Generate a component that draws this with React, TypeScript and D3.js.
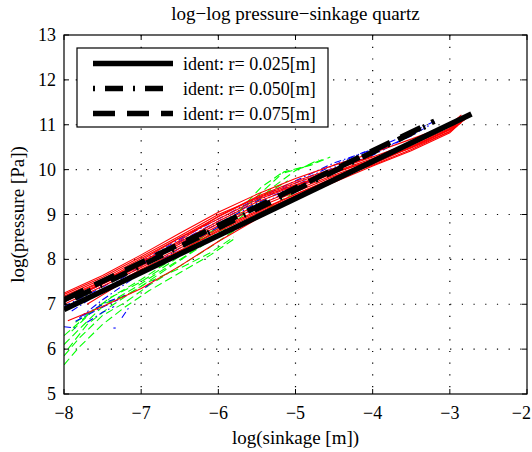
import React from "react";
import * as d3 from "d3";

const W = 532;
const H = 452;
const X_TICKS = [-8, -7, -6, -5, -4, -3, -2];
const Y_TICKS = [5, 6, 7, 8, 9, 10, 11, 12, 13];
const TITLE = "log\u2212log pressure\u2212sinkage quartz";
const X_LABEL = "log(sinkage [m])";
const Y_LABEL = "log(pressure [Pa])";
const LEGEND = ["ident: r= 0.025[m]", "ident: r= 0.050[m]", "ident: r= 0.075[m]"];

type P = [number, number];

// r = 0.025 experiments (red, solid)
const RED: P[][] = [
  [[-8, 7.25], [-7.5, 7.64], [-7, 8.1], [-6.5, 8.58], [-6, 9.05], [-5.5, 9.45], [-5, 9.8], [-4.5, 10.1], [-4, 10.37], [-3.5, 10.68], [-3, 11.0], [-2.85, 11.22]],
  [[-8, 7.18], [-7.5, 7.56], [-7, 8.02], [-6.5, 8.48], [-6, 8.95], [-5.5, 9.38], [-5, 9.7], [-4.5, 10.0], [-4, 10.28], [-3.5, 10.6], [-3, 10.95], [-2.8, 11.2]],
  [[-8, 7.12], [-7.5, 7.5], [-7, 7.95], [-6.5, 8.38], [-6, 8.85], [-5.5, 9.28], [-5, 9.6], [-4.5, 9.92], [-4, 10.22], [-3.5, 10.55], [-3, 10.92], [-2.85, 11.15]],
  [[-8, 7.05], [-7.5, 7.45], [-7, 7.88], [-6.5, 8.3], [-6, 8.75], [-5.5, 9.15], [-5, 9.5], [-4.5, 9.85], [-4, 10.15], [-3.5, 10.5], [-3, 10.88], [-2.9, 11.0]],
  [[-8, 7.0], [-7.5, 7.4], [-7, 7.82], [-6.5, 8.25], [-6, 8.68], [-5.5, 9.08], [-5, 9.45], [-4.5, 9.8], [-4, 10.1], [-3.5, 10.45], [-3, 10.85], [-2.75, 11.2]],
  [[-7.95, 7.1], [-7.5, 7.48], [-7, 7.92], [-6.5, 8.42], [-6, 8.96], [-5.5, 9.4], [-5, 9.74], [-4.5, 10.03], [-4, 10.3]],
  [[-7.95, 6.63], [-7.5, 6.95], [-7, 7.35], [-6.5, 7.85], [-6, 8.4], [-5.5, 8.9], [-5, 9.35], [-4.5, 9.72], [-4, 10.08], [-3.5, 10.42], [-3, 10.82], [-2.9, 10.98]],
  [[-8, 7.22], [-7.5, 7.6], [-7, 8.06], [-6.5, 8.52], [-6, 9.0], [-5.5, 9.36], [-5, 9.66], [-4.5, 9.94], [-4, 10.2], [-3.5, 10.52], [-3, 10.9], [-2.8, 11.18]],
  [[-8, 7.08], [-7.5, 7.45], [-7, 7.85], [-6.5, 8.35], [-6, 8.8], [-5.5, 9.2], [-5, 9.55], [-4.5, 9.88], [-4, 10.18], [-3.5, 10.48], [-3, 10.85], [-2.85, 11.05]],
  [[-7.9, 6.95], [-7.5, 7.3], [-7, 7.78], [-6.5, 8.2], [-6, 8.62], [-5.5, 9.02], [-5, 9.42], [-4.5, 9.78], [-4, 10.12], [-3.5, 10.5], [-3, 10.9], [-2.8, 11.2]],
  [[-8, 7.15], [-7.5, 7.52], [-7, 7.98], [-6.5, 8.48], [-6, 8.9], [-5.5, 9.33], [-5, 9.64], [-4.5, 9.95], [-4, 10.25], [-3.5, 10.58]],
  [[-7.7, 7.0], [-7.3, 7.42], [-7, 7.72], [-6.5, 8.18], [-6, 8.65], [-5.5, 9.05], [-5, 9.45], [-4.5, 9.82], [-4, 10.16], [-3.5, 10.5], [-3, 10.9], [-2.8, 11.12]],
];

// r = 0.050 experiments (blue, dash-dot)
const BLUE: P[][] = [
  [[-8, 7.05], [-7.5, 7.45], [-7, 7.95], [-6.5, 8.45], [-6, 8.9], [-5.5, 9.35], [-5, 9.75], [-4.5, 10.15], [-4, 10.45], [-3.5, 10.82], [-3.2, 11.08]],
  [[-7.9, 6.85], [-7.5, 7.3], [-7, 7.85], [-6.5, 8.35], [-6, 8.8], [-5.5, 9.25], [-5, 9.65], [-4.5, 10.05], [-4, 10.38], [-3.5, 10.75], [-3.25, 11.0]],
  [[-7.8, 6.7], [-7.5, 7.1], [-7, 7.7], [-6.5, 8.25], [-6, 8.72], [-5.5, 9.18], [-5, 9.6], [-4.5, 10.0], [-4, 10.32], [-3.6, 10.68]],
  [[-8, 6.95], [-7.5, 7.38], [-7, 7.9], [-6.5, 8.4], [-6, 8.85], [-5.5, 9.3], [-5, 9.7], [-4.5, 10.1], [-4.1, 10.4]],
  [[-7.85, 6.62], [-7.6, 6.85], [-7.3, 7.1]],
  [[-7.75, 6.75], [-7.45, 7.05], [-7.2, 7.2]],
  [[-7.7, 6.6], [-7.5, 6.82], [-7.35, 6.95]],
  [[-7.25, 6.7], [-7.15, 6.95]],
  [[-6.95, 7.37], [-6.82, 7.55]],
  [[-8, 6.5], [-7.85, 6.47]],
  [[-7.36, 6.47], [-7.33, 6.47]],
];

// r = 0.075 experiments (green, dashed)
const GREEN: P[][] = [
  [[-8, 5.65], [-7.8, 6.05], [-7.5, 6.55], [-7.2, 6.95], [-6.9, 7.3], [-6.5, 7.7], [-6.1, 8.1], [-5.8, 8.45]],
  [[-8, 5.85], [-7.8, 6.25], [-7.5, 6.75], [-7.2, 7.05], [-6.9, 7.42], [-6.5, 7.85], [-6.1, 8.28], [-5.7, 8.75], [-5.3, 9.2], [-4.9, 9.6]],
  [[-8, 6.1], [-7.8, 6.45], [-7.5, 6.95], [-7.1, 7.35], [-6.8, 7.68], [-6.4, 8.1], [-6, 8.6], [-5.6, 9.15], [-5.3, 9.6], [-5.0, 9.98], [-4.6, 10.26]],
  [[-8, 6.3], [-7.7, 6.75], [-7.4, 7.15], [-7, 7.5], [-6.6, 7.95], [-6.2, 8.45], [-5.8, 8.95], [-5.45, 9.6], [-5.2, 9.9], [-4.9, 10.05], [-4.7, 10.22]],
  [[-7.9, 6.4], [-7.6, 6.9], [-7.3, 7.25], [-7, 7.55], [-6.6, 8.0], [-6.2, 8.5], [-5.8, 8.95], [-5.5, 9.4], [-5.15, 9.95], [-4.8, 10.1], [-4.55, 10.28]],
  [[-7.95, 6.0], [-7.7, 6.55], [-7.4, 6.95], [-7.0, 7.4], [-6.7, 7.75], [-6.3, 8.2], [-6.0, 8.55], [-5.7, 8.95], [-5.4, 9.45], [-5.1, 9.75]],
  [[-7.85, 6.6], [-7.5, 7.0], [-7.2, 7.2], [-6.9, 7.5], [-6.5, 7.8], [-6.1, 8.15], [-5.8, 8.5]],
];

// fitted identification lines (black)
const FIT_025: P[] = [[-8, 6.88], [-2.72, 11.24]];
const FIT_050: P[] = [[-8, 7.02], [-3.25, 11.02]];
const FIT_075: P[] = [[-8, 7.1], [-3.2, 11.08]];

const DASH_DOT = "2,10,18,10";
const DASHED = "22,12";

export default function App() {
  const left = 64, right = 527, top = 35, bottom = 394;
  const x = d3.scaleLinear().domain([-8, -2]).range([left, right]);
  const y = d3.scaleLinear().domain([5, 13]).range([bottom, top]);
  const line = d3.line<P>().x((d) => x(d[0])).y((d) => y(d[1]));
  const font = "'Liberation Serif', 'Times New Roman', serif";
  const fs = 18;
  const tickLen = 5;

  const legX = 77, legY = 48, legW = 251, legH = 79;
  const legRows = [63.5, 88.5, 113.5];
  const legStyles = [
    { dash: undefined as string | undefined },
    { dash: DASH_DOT },
    { dash: DASHED },
  ];
  const legLine = d3.line<[number, number]>();

  return (
    <svg width={W} height={H} style={{ position: "absolute", left: 0, top: 0, background: "#fff" }} fontFamily={font}>
      <defs>
        <clipPath id="plotclip">
          <rect x={left} y={top} width={right - left} height={bottom - top} />
        </clipPath>
      </defs>
      <rect x={0} y={0} width={W} height={H} fill="#fff" />
      {/* grid */}
      {X_TICKS.slice(1, -1).map((t) => (
        <line key={"gx" + t} x1={x(t)} x2={x(t)} y1={top} y2={bottom} stroke="#000" strokeWidth={1.2} strokeDasharray="1.2,10.5" />
      ))}
      {Y_TICKS.slice(1, -1).map((t) => (
        <line key={"gy" + t} x1={left} x2={right} y1={y(t)} y2={y(t)} stroke="#000" strokeWidth={1.2} strokeDasharray="1.2,10.5" />
      ))}
      <g clipPath="url(#plotclip)" fill="none">
        {GREEN.map((c, i) => (
          <path key={"g" + i} d={line(c) || ""} stroke="#00ff00" strokeWidth={1.1} strokeDasharray="8,4" />
        ))}
        {BLUE.map((c, i) => (
          <path key={"b" + i} d={line(c) || ""} stroke="#0000ff" strokeWidth={1.1} strokeDasharray="7,3,1.5,3" />
        ))}
        {RED.map((c, i) => (
          <path key={"r" + i} d={line(c) || ""} stroke="#ff0000" strokeWidth={1.1} />
        ))}
        <path d={line(FIT_025) || ""} stroke="#000" strokeWidth={5.5} />
        <path d={line(FIT_050) || ""} stroke="#000" strokeWidth={5.5} strokeDasharray={DASH_DOT} />
        <path d={line(FIT_075) || ""} stroke="#000" strokeWidth={5.5} strokeDasharray={DASHED} />
      </g>
      {/* frame */}
      <rect x={left} y={top} width={right - left} height={bottom - top} fill="none" stroke="#000" strokeWidth={1.2} />
      {/* ticks */}
      {X_TICKS.map((t, i) => {
        const last = i === X_TICKS.length - 1;
        return (
          <g key={"tx" + t}>
            <line x1={x(t)} x2={x(t)} y1={bottom} y2={bottom - tickLen} stroke="#000" />
            <line x1={x(t)} x2={x(t)} y1={top} y2={top + tickLen} stroke="#000" />
            <text x={last ? W - 1 : x(t)} y={419} textAnchor={last ? "end" : "middle"} fontSize={fs}>
              {t < 0 ? "\u2212" + Math.abs(t) : String(t)}
            </text>
          </g>
        );
      })}
      {Y_TICKS.map((t) => (
        <g key={"ty" + t}>
          <line x1={left} x2={left + tickLen} y1={y(t)} y2={y(t)} stroke="#000" />
          <line x1={right} x2={right - tickLen} y1={y(t)} y2={y(t)} stroke="#000" />
          <text x={56} y={y(t) + 6} textAnchor="end" fontSize={fs}>
            {String(t)}
          </text>
        </g>
      ))}
      {/* labels */}
      <text x={(left + right) / 2} y={20} textAnchor="middle" fontSize={19}>
        {TITLE}
      </text>
      <text x={(left + right) / 2} y={444} textAnchor="middle" fontSize={19}>
        {X_LABEL}
      </text>
      <text transform={`translate(24, ${(top + bottom) / 2}) rotate(-90)`} textAnchor="middle" fontSize={19}>
        {Y_LABEL}
      </text>
      {/* legend */}
      <rect x={legX} y={legY} width={legW} height={legH} fill="#fff" stroke="#000" strokeWidth={1.2} />
      {LEGEND.map((lab, i) => (
        <g key={"l" + i}>
          <path
            d={legLine([[93, legRows[i]], [173, legRows[i]]]) || ""}
            stroke="#000"
            strokeWidth={5.5}
            strokeDasharray={legStyles[i].dash}
            fill="none"
          />
          <text x={183} y={legRows[i] + 6} fontSize={fs}>
            {lab}
          </text>
        </g>
      ))}
    </svg>
  );
}
